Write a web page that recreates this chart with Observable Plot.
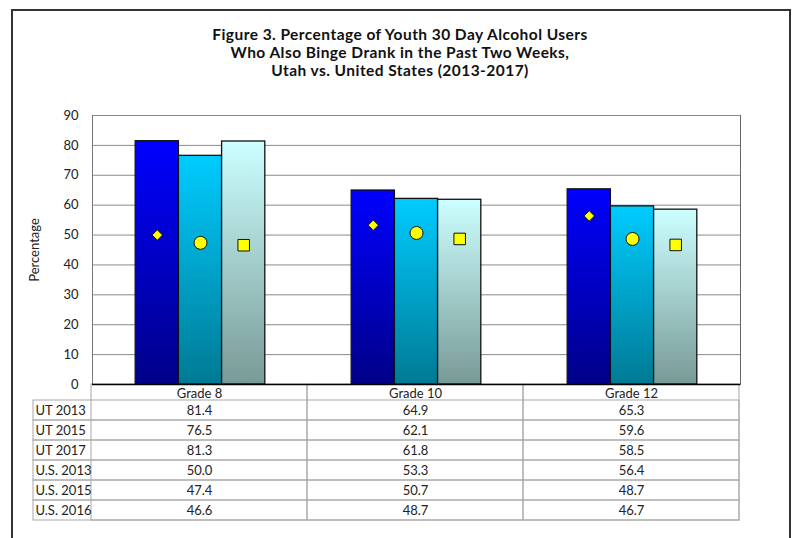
<!DOCTYPE html>
<html><head><meta charset="utf-8">
<script src="https://cdn.jsdelivr.net/npm/d3@7"></script>
<script src="https://cdn.jsdelivr.net/npm/@observablehq/plot@0.6"></script>
<style>
body{margin:0;background:#fff;}
#page{position:relative;width:793px;height:538px;overflow:hidden;font-family:Lato,sans-serif;}
#border{position:absolute;left:11px;top:9px;width:776px;height:600px;border:2px solid #333;}
#title{position:absolute;left:0;top:25px;width:800px;text-align:center;font-weight:bold;font-size:15.5px;letter-spacing:0.45px;line-height:18px;color:#111;}
#table{position:absolute;left:0;top:384px;}
#chart{position:absolute;left:0;top:105px;}
</style></head><body>
<div id="page"><div id="border"></div>
<div id="title">Figure 3. Percentage of Youth 30 Day Alcohol Users<br>Who Also Binge Drank in the Past Two Weeks,<br>Utah vs. United States (2013-2017)</div>
<div id="table"></div><div id="chart"></div></div>
<script>
const grades = ["Grade 8", "Grade 10", "Grade 12"];
const utSeries = ["UT 2013", "UT 2015", "UT 2017"];
const usSeries = ["U.S. 2013", "U.S. 2015", "U.S. 2016"];
const ut2013 = [81.4, 64.9, 65.3];
const ut2015 = [76.5, 62.1, 59.6];
const ut2017 = [81.3, 61.8, 58.5];
const us2013 = [50.0, 53.3, 56.4];
const us2015 = [47.4, 50.7, 48.7];
const us2016 = [46.6, 48.7, 46.7];
const yTicks = [0, 10, 20, 30, 40, 50, 60, 70, 80, 90];

const utValues = [ut2013, ut2015, ut2017];
const usValues = [us2013, us2015, us2016];
const allSeries = [...utSeries, ...usSeries];
const allValues = [...utValues, ...usValues];

const bars = [];
grades.forEach((g, j) => utSeries.forEach((s, i) => bars.push({grade: g, series: s, value: utValues[i][j]})));
const markers = [];
grades.forEach((g, j) => usSeries.forEach((s, i) => markers.push({grade: g, series: s, x: utSeries[i], value: usValues[i][j]})));
const cells = [];
allSeries.forEach((s, i) => grades.forEach((g, j) => cells.push({grade: g, series: s, value: allValues[i][j]})));

const diamond = {draw(ctx, size) {
  const r = Math.sqrt(size / Math.PI) * 0.8;
  ctx.moveTo(0, -r); ctx.lineTo(r, 0); ctx.lineTo(0, r); ctx.lineTo(-r, 0); ctx.closePath();
}};
const symbols = [diamond, "circle", "square"];

const baseStyle = {background: "transparent", overflow: "visible", fontFamily: "Lato, sans-serif", fontSize: "13px", color: "#222"};

const chart = Plot.plot({
  width: 793, height: 280,
  marginTop: 10, marginBottom: 1, marginLeft: 91, marginRight: 53,
  style: baseStyle,
  fx: {domain: grades, padding: 0, axis: null},
  x: {domain: utSeries, padding: 0, paddingInner: 0, paddingOuter: 1, round: false, axis: null},
  y: {domain: [0, 90], ticks: yTicks, tickSize: 0, tickPadding: 14, label: "Percentage", labelAnchor: "center", labelOffset: 63, labelArrow: "none"},
  color: {domain: utSeries, range: ["url(#g0)", "url(#g1)", "url(#g2)"]},
  marks: [
    Plot.ruleY(yTicks.slice(1), {stroke: "#8a8a8a", strokeWidth: 1}),
    Plot.frame({anchor: "left", facetAnchor: "left", stroke: "#777"}),
    Plot.frame({anchor: "right", facetAnchor: "right", stroke: "#666"}),
    Plot.barY(bars, {fx: "grade", x: "series", y: "value", fill: "series", stroke: "#111", strokeWidth: 1.3}),
    ...usSeries.map((s, i) => Plot.dot(markers.filter(d => d.series === s), {fx: "grade", x: "x", y: "value", symbol: symbols[i], r: 6.5, fill: "#ffff00", stroke: "#111", strokeWidth: 1})),
    Plot.ruleY([0], {stroke: "#000", strokeWidth: 1.3})
  ]
});

const defs = d3.select(chart).insert("defs", ":first-child");
[["#0000ff", "#000088"], ["#00ccff", "#007a94"], ["#ccffff", "#789a96"]].forEach(([top, bottom], i) => {
  const g = defs.append("linearGradient").attr("id", "g" + i).attr("x1", 0).attr("y1", 0).attr("x2", 0).attr("y2", 1);
  g.append("stop").attr("offset", 0).attr("stop-color", top);
  g.append("stop").attr("offset", 1).attr("stop-color", bottom);
});
document.getElementById("chart").appendChild(chart);

const table = Plot.plot({
  width: 793, height: 137,
  marginTop: 15, marginBottom: 1, marginLeft: 33, marginRight: 54,
  style: baseStyle,
  x: {domain: grades, padding: 0, insetLeft: 58, axis: "top", tickSize: 0, tickPadding: 2, label: null},
  y: {domain: allSeries, padding: 0, axis: null},
  marks: [
    Plot.cell(allSeries, {y: d => d, stroke: "#a8a8a8", fill: "none"}),
    Plot.cell(grades, {x: d => d, stroke: "#a8a8a8", fill: "none", insetTop: -15}),
    Plot.text(cells, {x: "grade", y: "series", text: d => d.value.toFixed(1), fill: "#222"}),
    Plot.text(allSeries, {y: d => d, text: d => d, frameAnchor: "left", textAnchor: "start", dx: 2, fill: "#222"})
  ]
});
document.getElementById("table").appendChild(table);
</script>
</body></html>
